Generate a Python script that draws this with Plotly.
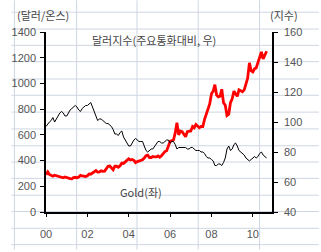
import plotly.graph_objects as go

# monthly categories Jan 2000 .. Sep 2010
months = [f"{y}-{m:02d}-01" for y in range(2000, 2011) for m in range(1, 13)][:129]

gold = [
    290, 312, 292, 282, 278, 286, 282, 277, 274, 270, 266, 272,
    266, 262, 260, 258, 268, 270, 266, 272, 285, 280, 276, 276,
    282, 296, 294, 302, 312, 322, 310, 312, 320, 316, 318, 334,
    356, 358, 340, 328, 356, 356, 348, 360, 380, 378, 390, 406,
    414, 404, 408, 402, 384, 392, 398, 400, 406, 420, 438, 442,
    424, 424, 432, 428, 428, 436, 426, 438, 458, 470, 476, 510,
    550, 555, 560, 615, 695, 600, 630, 625, 600, 585, 625, 630,
    630, 665, 655, 680, 665, 655, 665, 665, 720, 760, 810, 840,
    920, 940, 990, 910, 895, 900, 955, 850, 830, 750, 760, 850,
    880, 940, 920, 900, 950, 945, 935, 950, 995, 1040, 1160, 1100,
    1090, 1115, 1120, 1165, 1220, 1245, 1190, 1225, 1250,
]

dollar = [
    97, 99, 100, 101, 103, 100, 102, 104, 106, 107, 106, 104,
    104, 106, 108, 109, 110, 111, 110, 108, 107, 109, 110, 111,
    111, 112, 113, 110, 107, 104, 101, 102, 102, 101, 100, 99,
    99, 98, 97, 95, 92, 92, 91, 93, 94, 90, 88, 86,
    84, 84, 86, 88, 89, 88, 87, 87, 87, 84, 81, 80,
    81, 82, 82, 84, 85, 87, 87, 86, 86, 87, 88, 88,
    86, 87, 87, 85, 82, 83, 83, 83, 83, 83, 82, 82,
    83, 83, 82, 81, 81, 81, 80, 80, 79, 77, 76, 76,
    75, 74, 71, 71, 72, 72, 71, 73, 76, 82, 84, 81,
    82, 85, 86, 84, 81, 80, 79, 78, 76, 75, 74, 75,
    76, 77, 76, 77, 79, 80, 78, 77, 76,
]

left_ticks = [0, 200, 400, 600, 800, 1000, 1200, 1400]
right_ticks = [40, 60, 80, 100, 120, 140, 160]

W, H = 321, 252
L, R, T, B = 36, 49, 32, 38
pw, ph = W - L - R, H - T - B

fig = go.Figure()
fig.add_trace(go.Scatter(x=months, y=gold, mode="lines",
                         line=dict(color="#ff0000", width=2.8), yaxis="y"))
fig.add_trace(go.Scatter(x=months, y=dollar, mode="lines",
                         line=dict(color="#000000", width=1), yaxis="y2"))

# spreadsheet cell grid behind the chart
shapes = []
grid_col = "#cfd6e2"
for px in [3, 68, 131, 195, 259]:
    xp = (px - L) / pw
    shapes.append(dict(type="line", xref="paper", yref="paper", x0=xp, x1=xp,
                       y0=(T + ph - H) / ph, y1=(T + ph) / ph,
                       line=dict(color=grid_col, width=1), layer="below"))
for py in [12, 29, 45.5, 62, 79.5, 96, 113, 130, 147, 163.5, 180, 197, 213.5, 230.5, 247]:
    yp = (T + ph - py) / ph
    shapes.append(dict(type="line", xref="paper", yref="paper", x0=-L / pw, x1=(W - L) / pw,
                       y0=yp, y1=yp, line=dict(color=grid_col, width=1), layer="below"))

tick_font = dict(family="Liberation Sans, Arial", size=11, color="#555555")
kfont = dict(family="Noto Sans CJK KR", size=11, color="#444444")

fig.update_layout(
    width=W, height=H,
    margin=dict(l=L, r=R, t=T, b=B),
    paper_bgcolor="white", plot_bgcolor="rgba(0,0,0,0)",
    showlegend=False,
    shapes=shapes,
    xaxis=dict(type="date", range=["2000-01-01", "2010-12-05"],
               tick0="2000-01-01", dtick="M24", tickformat="%y",
               showgrid=False, zeroline=False,
               showline=True, linecolor="black", linewidth=1.5,
               ticks="outside", ticklen=3, tickcolor="black",
               tickfont=tick_font, ticklabelstandoff=8),
    yaxis=dict(range=[0, 1400], tickvals=left_ticks, showgrid=False, zeroline=False,
               showline=True, linecolor="black", linewidth=1.5,
               ticks="outside", ticklen=4, tickcolor="black",
               tickfont=tick_font, ticklabelstandoff=2),
    yaxis2=dict(range=[40, 160], tickvals=right_ticks, overlaying="y", side="right",
                showgrid=False, zeroline=False,
                showline=True, linecolor="black", linewidth=1.5,
                ticks="outside", ticklen=4, tickcolor="black",
                tickfont=tick_font, ticklabelstandoff=4),
    annotations=[
        dict(text="(달러/온스)", xref="paper", yref="paper",
             x=(4 - L) / pw, y=(T + ph - 15) / ph, xanchor="left", yanchor="middle",
             showarrow=False, font=kfont),
        dict(text="(지수)", xref="paper", yref="paper",
             x=(268 - L) / pw, y=(T + ph - 15) / ph, xanchor="left", yanchor="middle",
             showarrow=False, font=kfont),
        dict(text="달러지수(주요통화대비, 우)", xref="paper", yref="paper",
             x=(82 - L) / pw, y=(T + ph - 40) / ph, xanchor="left", yanchor="middle",
             showarrow=False, font=kfont),
        dict(text="Gold(좌)", xref="paper", yref="paper",
             x=(111 - L) / pw, y=(T + ph - 194) / ph, xanchor="left", yanchor="middle",
             showarrow=False, font=kfont),
    ],
)

fig.write_html("out.html")
